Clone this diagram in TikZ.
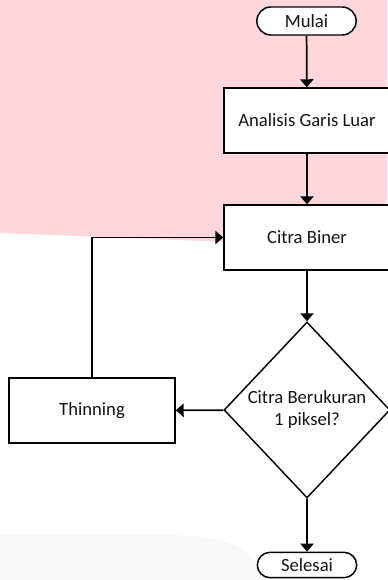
\documentclass[tikz,border=0pt]{standalone}
\usepackage{fontspec}
\setmainfont{Carlito}
\usetikzlibrary{shapes.geometric,shapes.misc,arrows.meta}
\definecolor{bgpink}{RGB}{255,214,220}
\definecolor{bggray}{RGB}{249,249,249}
\definecolor{txt}{RGB}{20,20,20}
\tikzset{
  lbl/.style={font=\fontsize{14}{16.5}\selectfont, text=txt},
  procbox/.style={lbl, draw=black, line width=1.1pt, fill=white, minimum width=124.5pt, minimum height=48.75pt, inner sep=0pt},
  term/.style={lbl, draw=black, line width=1.1pt, fill=white, rounded rectangle, minimum width=74.5pt, inner sep=0pt},
  decision/.style={lbl, draw=black, line width=1.1pt, fill=white, diamond, minimum width=124.5pt, minimum height=132pt, inner sep=0pt, align=center},
  flow/.style={line width=1.3pt, -{Triangle[length=6pt,width=10pt]}}
}
\begin{document}
\begin{tikzpicture}[x={(0.75pt,0)}, y={(0,-0.75pt)}]
\useasboundingbox (0,0) rectangle (387,580);
% backgrounds
\fill[bgpink] (0,0) -- (387,0) -- (387,244) -- (230,242) -- (0,233) -- cycle;
\fill[bggray] (0,535) -- (170,535) .. controls (230,536) and (255,548) .. (262,580) -- (0,580) -- cycle;
% nodes
\node[term, minimum height=21pt] (mulai) at (306.5,21) {Mulai};
\node[procbox] (analisis) at (307,120.5) {Analisis Garis Luar};
\node[procbox] (biner) at (307,237.5) {Citra Biner};
\node[decision] (cek) at (307,410) {Citra Berukuran\\1 piksel?};
\node[procbox] (thin) at (92,410.5) {Thinning};
\node[term, minimum height=19pt] (selesai) at (307,565) {Selesai};
% connectors
\draw[flow] (mulai) -- (analisis);
\draw[flow] (analisis) -- (biner);
\draw[flow] (biner) -- (cek);
\draw[flow] (cek) -- (thin);
\draw[flow] (thin.north) |- (biner.west);
\draw[flow] (cek) -- (selesai);
\end{tikzpicture}
\end{document}
